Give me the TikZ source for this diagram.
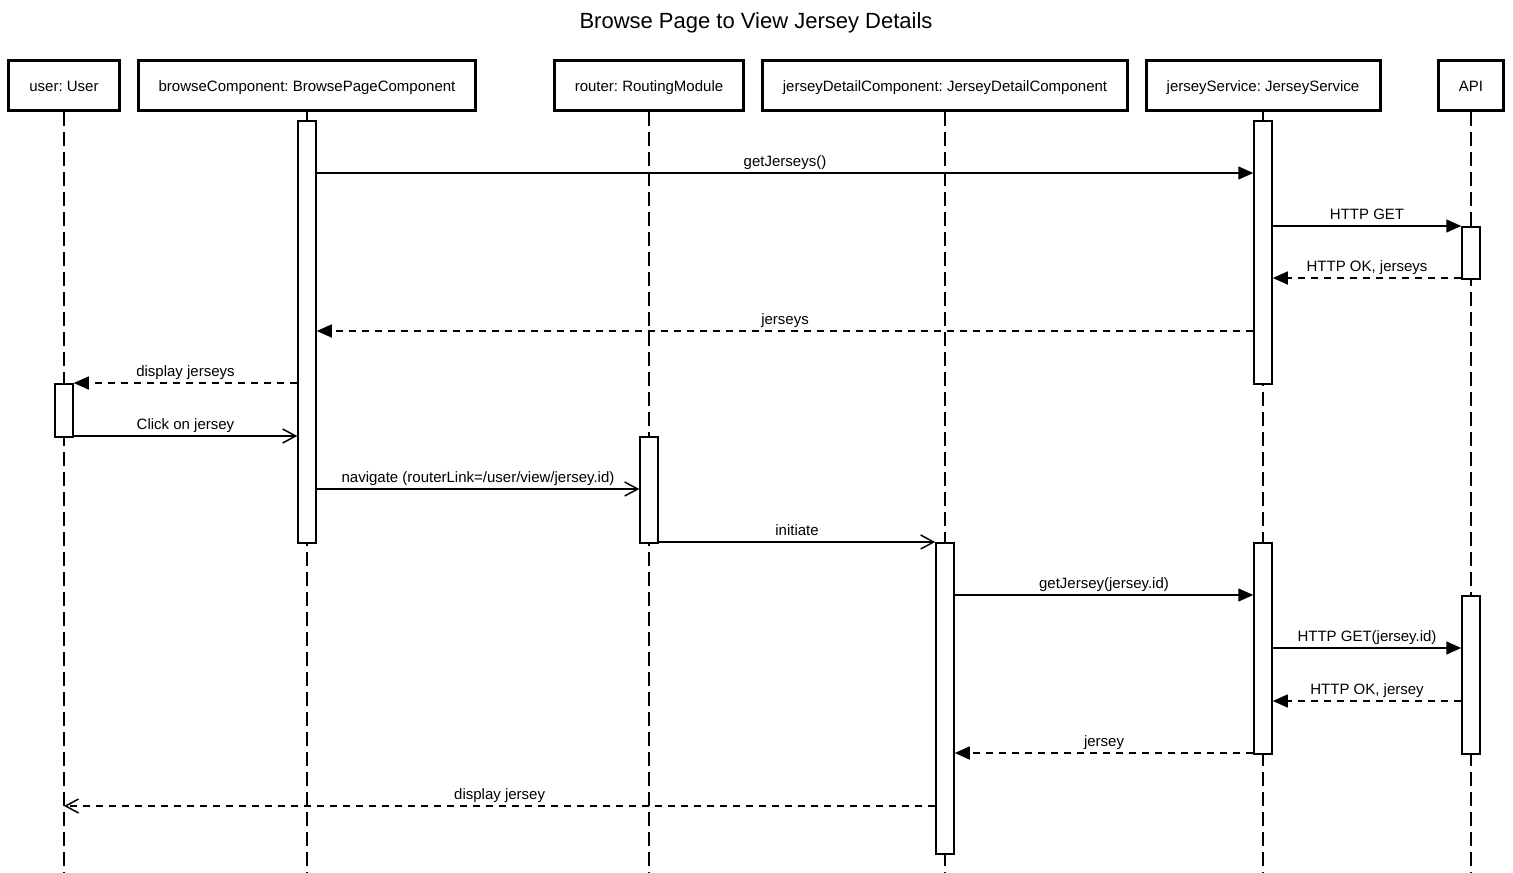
\documentclass[tikz,border=0pt]{standalone}
\usepackage{fontspec}
\setmainfont{Liberation Sans}
\frenchspacing
\usetikzlibrary{arrows.meta}
\begin{document}
\begin{tikzpicture}[x=1bp,y=-1bp,
  font=\fontsize{15bp}{18bp}\selectfont,
  part/.style={draw, line width=3bp, fill=white, minimum height=50bp, inner sep=0pt, text height=12bp, text depth=0bp},
  bar/.style={draw, line width=1.5bp, fill=white, minimum width=18bp, inner sep=0pt, anchor=north},
  lifeline/.style={line width=1.5bp, dash pattern=on 14bp off 6bp},
  msg/.style={line width=1.5bp},
  ret/.style={line width=1.5bp, dash pattern=on 7bp off 6bp},
  filled/.style={-{Triangle[length=15bp,width=13bp]}},
  open/.style={-{Straight Barb[length=13bp,width=14bp,line width=1.5bp]}},
  lbl/.style={midway, above, inner sep=2bp, text height=11bp, text depth=3.5bp}
]
\useasboundingbox (0,0) rectangle (1513,872);
\node[font=\fontsize{22bp}{26bp}\selectfont] (title) at (756,23) {Browse Page to View Jersey Details};

% participants
\node[part, minimum width=110bp] (user) at (64,85) {user: User};
\node[part, minimum width=337bp] (browse) at (307,85) {browseComponent: BrowsePageComponent};
\node[part, minimum width=189bp] (router) at (649,85) {router: RoutingModule};
\node[part, minimum width=365bp] (jd) at (945,85) {jerseyDetailComponent: JerseyDetailComponent};
\node[part, minimum width=234bp] (js) at (1263,85) {jerseyService: JerseyService};
\node[part, minimum width=65bp] (api) at (1471,85) {API};

% lifeline ends
\coordinate (userE) at (64,872);
\coordinate (browseE) at (307,872);
\coordinate (routerE) at (649,872);
\coordinate (jdE) at (945,872);
\coordinate (jsE) at (1263,872);
\coordinate (apiE) at (1471,872);
\draw[lifeline] (user.south) -- (userE);
\draw[lifeline] (browse.south) -- (browseE);
\draw[lifeline] (router.south) -- (routerE);
\draw[lifeline] (jd.south) -- (jdE);
\draw[lifeline] (js.south) -- (jsE);
\draw[lifeline] (api.south) -- (apiE);

% activation bars
\node[bar, minimum height=422bp] (b1) at (307,120) {};
\node[bar, minimum height=263bp] (s1) at (1263,120) {};
\node[bar, minimum height=52bp] (a1) at (1471,226) {};
\node[bar, minimum height=53bp] (u1) at (64,383) {};
\node[bar, minimum height=106bp] (r1) at (649,436) {};
\node[bar, minimum height=311bp] (d1) at (945,542) {};
\node[bar, minimum height=211bp] (s2) at (1263,542) {};
\node[bar, minimum height=158bp] (a2) at (1471,595) {};

% messages
\draw[msg, filled] (b1.east |- 0,173) -- (s1.west |- 0,173) node[lbl] {getJerseys()};
\draw[msg, filled] (s1.east |- 0,226) -- (a1.west |- 0,226) node[lbl] {HTTP GET};
\draw[ret, filled] (a1.west |- 0,278) -- (s1.east |- 0,278) node[lbl] {HTTP OK, jerseys};
\draw[ret, filled] (s1.west |- 0,331) -- (b1.east |- 0,331) node[lbl] {jerseys};
\draw[ret, filled] (b1.west |- 0,383) -- (u1.east |- 0,383) node[lbl] {display jerseys};
\draw[msg, open] (u1.east |- 0,436) -- (b1.west |- 0,436) node[lbl] {Click on jersey};
\draw[msg, open] (b1.east |- 0,489) -- (r1.west |- 0,489) node[lbl] {navigate (routerLink=/user/view/jersey.id)};
\draw[msg, open] (r1.east |- 0,542) -- (d1.west |- 0,542) node[lbl] {initiate};
\draw[msg, filled] (d1.east |- 0,595) -- (s2.west |- 0,595) node[lbl] {getJersey(jersey.id)};
\draw[msg, filled] (s2.east |- 0,648) -- (a2.west |- 0,648) node[lbl] {HTTP GET(jersey.id)};
\draw[ret, filled] (a2.west |- 0,701) -- (s2.east |- 0,701) node[lbl] {HTTP OK, jersey};
\draw[ret, filled] (s2.west |- 0,753) -- (d1.east |- 0,753) node[lbl] {jersey};
\draw[ret, open] (d1.west |- 0,806) -- (user.south |- 0,806) node[lbl] {display jersey};
\end{tikzpicture}
\end{document}
